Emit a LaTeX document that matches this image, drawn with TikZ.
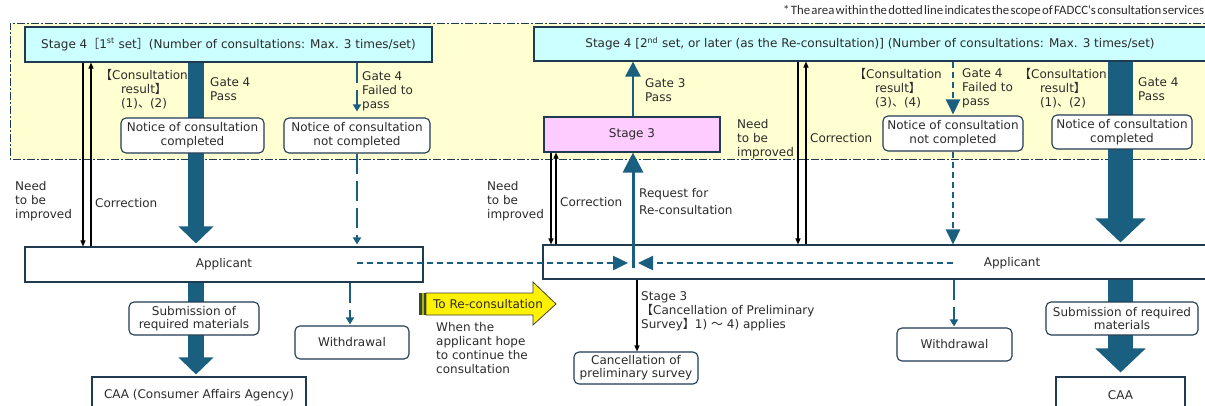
\documentclass[tikz,border=0pt]{standalone}
\usepackage{fontspec}
\setmainfont{DejaVu Sans}
\newfontfamily\cjk{Noto Sans CJK JP}
\newfontfamily\notefont[WordSpace=0.45]{Carlito}
\usetikzlibrary{arrows.meta}
\definecolor{navy}{HTML}{1F3B52}
\definecolor{tealb}{HTML}{1A5E80}
\definecolor{txt}{HTML}{2B2B2B}
\definecolor{bgy}{HTML}{FFFFD2}
\definecolor{cyanbox}{HTML}{CCFFFF}
\definecolor{pinkbox}{HTML}{FFCCFF}
\definecolor{olivebar}{HTML}{2E4A3A}
\newcommand\fs{\fontsize{12}{14}\selectfont}
\begin{document}
\begin{tikzpicture}[x=1pt,y=-1pt,
  every node/.style={text=txt, font=\fs},
  box/.style={draw=navy, line width=1.1pt, inner sep=0pt, align=center},
  rbox/.style={box, rounded corners=5pt, fill=white},
  lbl/.style={inner sep=0pt, align=left, anchor=west},
  clbl/.style={inner sep=0pt, align=center},
  thinarr/.style={draw=black, line width=1.1pt, -{Triangle[width=5pt,length=6pt]}},
  bigL/.style={draw=tealb, line width=16pt, -{Triangle[width=34pt,length=17pt]}},
  bigR/.style={draw=tealb, line width=25pt, -{Triangle[width=49pt,length=24pt]}},
  dotline/.style={draw=tealb, line width=2.5pt, dash pattern=on 6pt off 4pt, -{Triangle[width=14pt,length=15pt]}},
  longdash/.style={draw=tealb, line width=2pt, dash pattern=on 20pt off 7pt, -{Triangle[width=8pt,length=7pt]}},
]
\useasboundingbox (0,0) rectangle (1205,405);
% consultation scope area
\fill[bgy] (10,23) rectangle (1215,159);
\draw[navy, line width=1pt, dash pattern=on 8pt off 2pt on 2pt off 2pt] (1215,23) -- (10,23) -- (10,159) -- (1215,159);
\node[anchor=east, inner sep=0pt, font=\notefont\fontsize{12.8}{14}\selectfont] (note) at (1204.5,11) {* The area within the dotted line indicates the scope of FADCC's consultation services};

% main boxes
\node[box, fill=cyanbox, minimum width=407pt, minimum height=35pt] (s4L) at (228.5,44.5) {Stage 4{\cjk ［}1\textsuperscript{st} set{\cjk ］}(Number of consultations: Max. 3 times/set)};
\node[box, fill=cyanbox, minimum width=672pt, minimum height=34pt] (s4R) at (870,44) {Stage 4 [2\textsuperscript{nd} set, or later (as the Re-consultation)] (Number of consultations: Max. 3 times/set)};
\node[box, fill=pinkbox, minimum width=176pt, minimum height=35pt] (s3) at (632,134.5) {Stage 3};
\node[box, fill=white, minimum width=398pt, minimum height=35pt] (appL) at (224,264.5) {Applicant};
\node[box, fill=white, minimum width=667pt, minimum height=34pt] (appR) at (876.5,262) {};
\node[inner sep=0pt] (appRt) at (1012,263) {Applicant};
\node[box, fill=white, minimum width=214pt, minimum height=36pt] (caaL) at (199,395) {CAA (Consumer Affairs Agency)};
\node[box, fill=white, minimum width=129pt, minimum height=36pt] (caaR) at (1120.5,395) {CAA};

% x positions
\coordinate (xA) at (196,0);
\coordinate (xB) at (1120.5,0);
\coordinate (c83) at (83,0);
\coordinate (c91) at (91,0);
\coordinate (c551) at (551,0);
\coordinate (c556) at (556,0);
\coordinate (c798) at (798,0);
\coordinate (c806) at (806,0);
\coordinate (c357) at (357,0);
\coordinate (c350) at (350,0);
\coordinate (c953) at (953,0);
\coordinate (c954) at (954,0);
\coordinate (c633) at (633,0);
\coordinate (c637) at (637,0);

% big arrows
\draw[bigL, shorten >=3pt] (xA |- s4L.south) -- (xA |- appL.north);
\draw[bigL, shorten >=2pt] (xA |- appL.south) -- (xA |- caaL.north);
\draw[bigR, shorten >=2pt] (xB |- s4R.south) -- (xB |- appR.north);
\draw[bigR, shorten >=4pt] (xB |- appR.south) -- (xB |- caaR.north);

% rounded boxes
\node[rbox, minimum width=143pt, minimum height=35pt] (ncL) at (192.5,135.5) {Notice of consultation\\completed};
\node[rbox, minimum width=146pt, minimum height=35pt] (nnL) at (357,135.5) {Notice of consultation\\not completed};
\node[rbox, minimum width=140pt, minimum height=35pt] (nnR) at (953,133.5) {Notice of consultation\\not completed};
\node[rbox, minimum width=140pt, minimum height=34pt] (ncR) at (1122,132) {Notice of consultation\\completed};
\node[rbox, minimum width=130pt, minimum height=33pt, font=\fontsize{12}{13}\selectfont] (subL) at (194,318.5) {Submission of\\required materials};
\node[rbox, minimum width=152pt, minimum height=33pt, font=\fontsize{12}{13}\selectfont] (subR) at (1122,318.5) {Submission of required\\materials};
\node[rbox, minimum width=114pt, minimum height=33pt] (wdL) at (352,342.5) {Withdrawal};
\node[rbox, minimum width=115pt, minimum height=33pt] (wdR) at (954.5,344.5) {Withdrawal};
\node[rbox, minimum width=124pt, minimum height=32pt, font=\fontsize{12}{13}\selectfont] (cancel) at (636,368) {Cancellation of\\preliminary survey};

% thin correction arrows
\draw[thinarr] (c83 |- s4L.south) -- (c83 |- appL.north);
\draw[thinarr] (c91 |- appL.north) -- (c91 |- s4L.south);
\draw[thinarr] (c551 |- s3.south) -- (c551 |- appR.north);
\draw[thinarr] (c556 |- appR.north) -- (c556 |- s3.south);
\draw[thinarr] (c798 |- s4R.south) -- (c798 |- appR.north);
\draw[thinarr] (c806 |- appR.north) -- (c806 |- s4R.south);
\draw[thinarr] (c637 |- appR.south) -- (c637 |- cancel.north);

% dashed arrows
\draw[longdash, shorten >=6pt] (c357 |- s4L.south) -- (c357 |- nnL.north);
\draw[longdash, shorten >=2pt] (c357 |- nnL.south) -- (c357 |- appL.north);
\draw[longdash, shorten >=1pt] (c350 |- appL.south) -- (c350 |- wdL.north);
\draw[dotline, shorten >=1pt] (c953 |- s4R.south) -- (c953 |- nnR.north);
\draw[dotline] (c953 |- nnR.south) -- (c953 |- appR.north);
\draw[longdash, shorten >=1pt] (c954 |- appR.south) -- (c954 |- wdR.north);
\coordinate (dl) at (357,263);
\coordinate (dr) at (953,263);
\coordinate (mL) at (628,263);
\coordinate (mR) at (638,263);
\draw[dotline] (dl) -- (mL);
\draw[dotline] (dr) -- (mR);

% gate 3 / re-consultation
\draw[tealb, line width=2.5pt, -{Triangle[width=15pt,length=15pt]}] (c633 |- s3.north) -- (c633 |- s4R.south);
\coordinate (req) at (633,268);
\draw[tealb, line width=3pt, -{Triangle[width=20pt,length=20pt]}] (req) -- (c633 |- s3.south);

% yellow arrow
\draw[fill=yellow, draw=black!70!olive, line width=0.8pt] (426,293) -- (533,293) -- (533,282) -- (556,304) -- (533,325) -- (533,315) -- (426,315) -- cycle;
\fill[olivebar] (419,293) rectangle (422,315);
\fill[olive!60!yellow] (422,293) rectangle (424,315);
\fill[olivebar] (424,293) rectangle (426,315);
\node[inner sep=0pt] (toRe) at (488,304) {To Re-consultation};

% labels
\node[clbl] (cr12L) at (144,89) {{\cjk 【}Consultation\\result{\cjk 】}\\(1){\cjk 、}(2)};
\node[lbl] (g4pL) at (210,89) {Gate 4\\Pass};
\node[lbl] (g4fL) at (362,91) {Gate 4\\Failed to\\pass};
\node[lbl] (needL) at (15,201) {Need\\to be\\improved};
\node[lbl] (corrL) at (95,203) {Correction};
\node[lbl] (needC) at (487,201) {Need\\to be\\improved};
\node[lbl] (corrC) at (560,202) {Correction};
\node[lbl, font=\fontsize{12}{17}\selectfont] (reqC) at (639,202) {Request for\\Re-consultation};
\node[lbl] (g3p) at (645,90) {Gate 3\\Pass};
\node[lbl] (needR) at (737,139) {Need\\to be\\improved};
\node[lbl] (corrR) at (810,138) {Correction};
\node[clbl] (cr34R) at (898,88) {{\cjk 【}Consultation\\result{\cjk 】}\\(3){\cjk 、}(4)};
\node[lbl] (g4fR) at (962,88) {Gate 4\\Failed to\\pass};
\node[clbl] (cr12R) at (1063,88) {{\cjk 【}Consultation\\result{\cjk 】}\\(1){\cjk 、}(2)};
\node[lbl] (g4pR) at (1138,89) {Gate 4\\Pass};
\node[lbl] (cancL) at (641,311) {Stage 3\\{\cjk 【}Cancellation of Preliminary\\Survey{\cjk 】}1) {\cjk ～} 4) applies};
\node[lbl] (when) at (436,348) {When the\\applicant hope\\to continue the\\consultation};
\end{tikzpicture}
\end{document}
